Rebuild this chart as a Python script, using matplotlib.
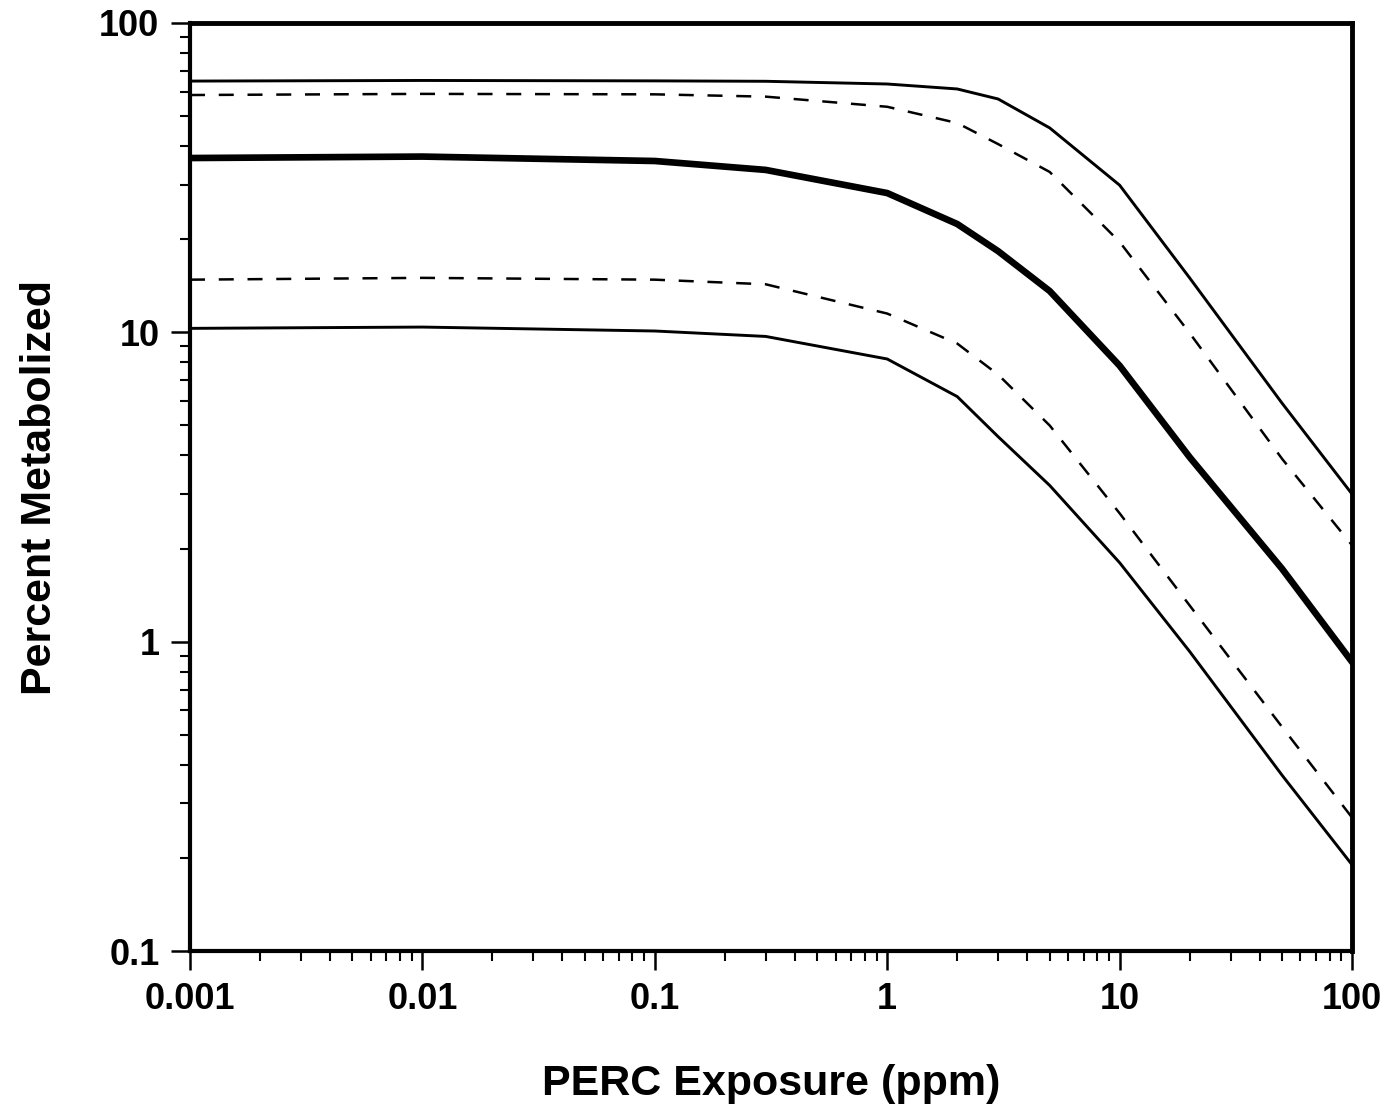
import matplotlib.pyplot as plt
from matplotlib.ticker import LogLocator, FixedLocator, NullFormatter

plt.rcParams['font.family'] = ['Liberation Sans', 'DejaVu Sans']

# exposure levels (ppm)
exposure = [0.001, 0.01, 0.1, 0.3, 1, 2, 3, 5, 10, 20, 50, 100]

# percent metabolized
upper_solid = [64.9, 65.2, 65.0, 64.8, 63.5, 61.2, 56.8, 45.8, 29.9, 15.0, 5.9, 3.0]
upper_dashed = [58.5, 59.0, 58.8, 57.8, 53.6, 47.5, 40.6, 33.0, 19.6, 9.95, 3.9, 2.05]
median = [36.6, 37.0, 35.8, 33.5, 28.2, 22.4, 18.3, 13.6, 7.8, 3.95, 1.72, 0.86]
lower_dashed = [14.8, 15.0, 14.8, 14.3, 11.5, 9.2, 7.3, 5.0, 2.6, 1.31, 0.53, 0.27]
lower_solid = [10.3, 10.4, 10.1, 9.7, 8.2, 6.2, 4.6, 3.2, 1.8, 0.93, 0.37, 0.19]

x_ticks = [0.001, 0.01, 0.1, 1, 10, 100]
x_ticklabels = ['0.001', '0.01', '0.1', '1', '10', '100']
y_ticks = [0.1, 1, 10, 100]
y_ticklabels = ['0.1', '1', '10', '100']

fig = plt.figure(figsize=(13.92, 11.11), dpi=100)
ax = fig.add_axes([0.1365, 0.144, 0.8348, 0.8353])

ax.plot(exposure, upper_solid, color='black', lw=2.1)
ax.plot(exposure, upper_dashed, color='black', lw=1.8, dashes=(6, 5.5))
ax.plot(exposure, median, color='black', lw=4.8)
ax.plot(exposure, lower_dashed, color='black', lw=1.8, dashes=(6, 5.5))
ax.plot(exposure, lower_solid, color='black', lw=2.1)

ax.set_xscale('log')
ax.set_yscale('log')
ax.set_xlim(0.001, 100)
ax.set_ylim(0.1, 100)

ax.xaxis.set_major_locator(FixedLocator(x_ticks))
ax.set_xticklabels(x_ticklabels)
ax.yaxis.set_major_locator(FixedLocator(y_ticks))
ax.set_yticklabels(y_ticklabels)
ax.xaxis.set_minor_locator(LogLocator(base=10, subs=range(2, 10)))
ax.yaxis.set_minor_locator(LogLocator(base=10, subs=range(2, 10)))
ax.xaxis.set_minor_formatter(NullFormatter())
ax.yaxis.set_minor_formatter(NullFormatter())

ax.tick_params(which='major', direction='out', length=14, width=1.8,
               labelsize=26, pad=8)
ax.tick_params(which='minor', direction='out', length=7, width=1.5)
for lab in ax.get_xticklabels() + ax.get_yticklabels():
    lab.set_fontweight('bold')

ax.spines['top'].set_linewidth(3.5)
ax.spines['right'].set_linewidth(3.5)
ax.spines['left'].set_linewidth(3)
ax.spines['bottom'].set_linewidth(3)

ax.set_xlabel('PERC Exposure (ppm)', fontsize=31, fontweight='bold', labelpad=34)
ax.set_ylabel('Percent Metabolized', fontsize=31, fontweight='bold', labelpad=28)

plt.savefig('out.png', dpi=100)
